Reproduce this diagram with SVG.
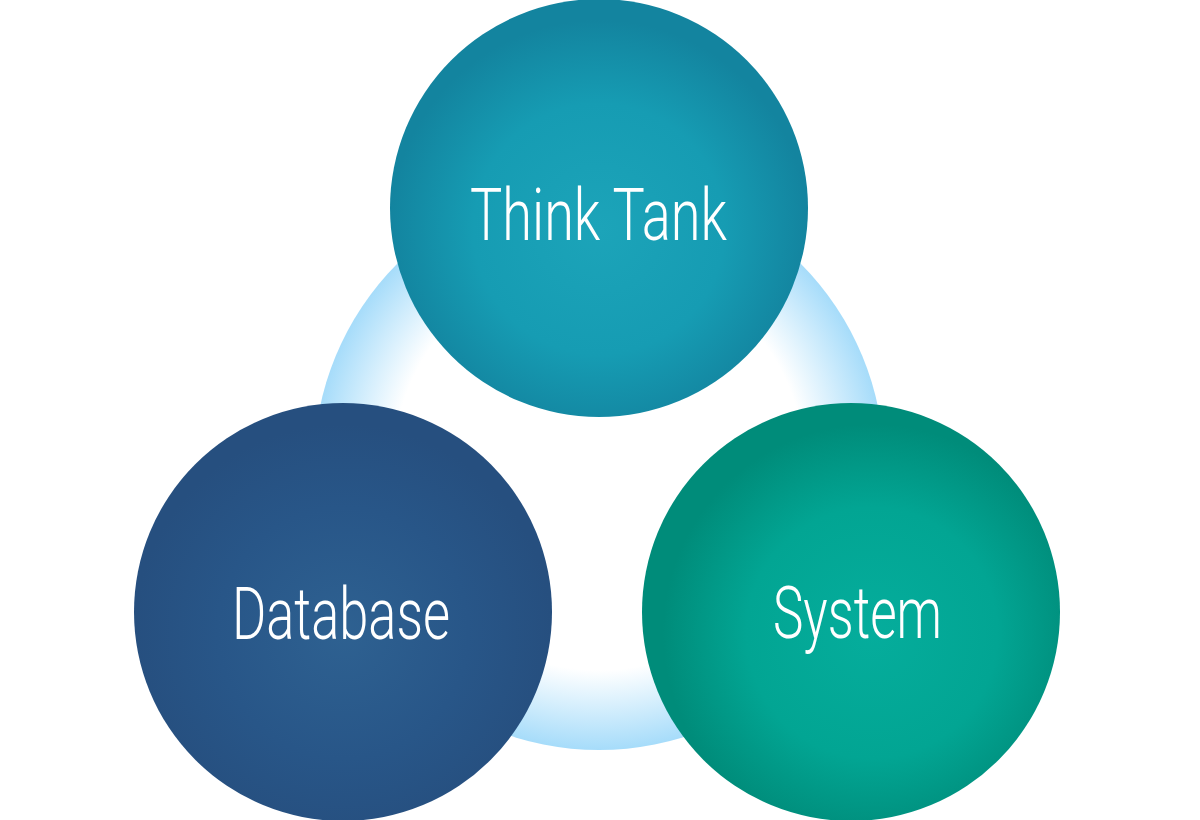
<svg xmlns="http://www.w3.org/2000/svg" width="1200" height="820" viewBox="0 0 1200 820">
<defs>
<radialGradient id="ring" cx="0.5" cy="0.5" r="0.5">
<stop offset="0" stop-color="#ffffff"/>
<stop offset="0.72" stop-color="#ffffff"/>
<stop offset="1" stop-color="#a6dcfa"/>
</radialGradient>
<radialGradient id="gThink" cx="0.5" cy="0.55" r="0.5">
<stop offset="0" stop-color="#1ca4b9"/>
<stop offset="0.6" stop-color="#169cb3"/>
<stop offset="1" stop-color="#13849f"/>
</radialGradient>
<radialGradient id="gData" cx="0.5" cy="0.55" r="0.5">
<stop offset="0" stop-color="#2e6191"/>
<stop offset="0.6" stop-color="#285688"/>
<stop offset="1" stop-color="#264f7f"/>
</radialGradient>
<radialGradient id="gSys" cx="0.55" cy="0.55" r="0.5">
<stop offset="0" stop-color="#05ad9c"/>
<stop offset="0.6" stop-color="#02a593"/>
<stop offset="1" stop-color="#008c7a"/>
</radialGradient>
</defs>
<style>
.lbl{font-family:"Roboto","Liberation Sans",sans-serif;font-weight:300;fill:#ffffff;font-size:72px;}
</style>
<rect width="1200" height="820" fill="#ffffff"/>
<circle cx="599" cy="465" r="285" fill="url(#ring)"/>
<g id="think-tank">
<circle cx="599" cy="208" r="209" fill="url(#gThink)"/>
<text class="lbl" x="470" y="240" textLength="257" lengthAdjust="spacingAndGlyphs">Think Tank</text>
</g>
<g id="database">
<circle cx="343" cy="612" r="209" fill="url(#gData)"/>
<text class="lbl" x="232" y="639" textLength="218" lengthAdjust="spacingAndGlyphs">Database</text>
</g>
<g id="system">
<circle cx="851" cy="612" r="209" fill="url(#gSys)"/>
<text class="lbl" x="773" y="638" textLength="169" lengthAdjust="spacingAndGlyphs">System</text>
</g>
<g id="connectors"></g>
</svg>
